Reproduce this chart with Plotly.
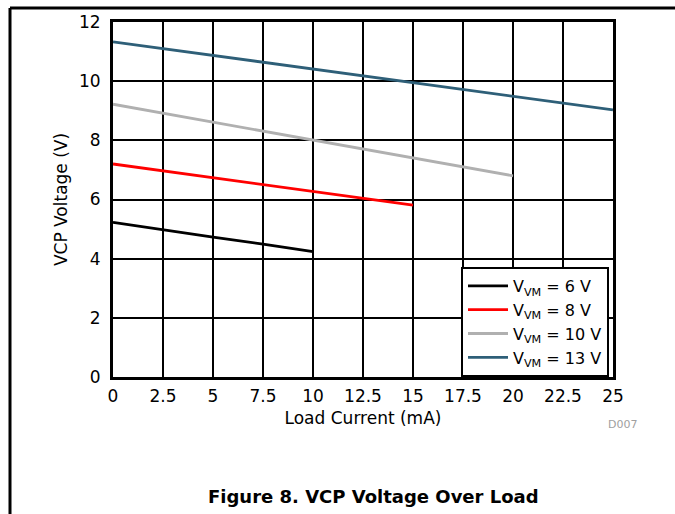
import plotly.graph_objects as go

x_6v = [0, 2.5, 5, 7.5, 10]
y_6v = [5.23, 4.97, 4.73, 4.49, 4.24]
x_8v = [0, 15]
y_8v = [7.2, 5.81]
x_10v = [0, 20]
y_10v = [9.22, 6.8]
x_13v = [0, 25]
y_13v = [11.33, 9.03]

series = [
    ("V<sub>VM</sub> = 6 V", x_6v, y_6v, "#000000"),
    ("V<sub>VM</sub> = 8 V", x_8v, y_8v, "#ff0000"),
    ("V<sub>VM</sub> = 10 V", x_10v, y_10v, "#b0b0b0"),
    ("V<sub>VM</sub> = 13 V", x_13v, y_13v, "#2e5f78"),
]

x_ticks = [0, 2.5, 5, 7.5, 10, 12.5, 15, 17.5, 20, 22.5, 25]
x_tick_labels = ["0", "2.5", "5", "7.5", "10", "12.5", "15", "17.5", "20", "22.5", "25"]
y_ticks = [0, 2, 4, 6, 8, 10, 12]

FONT = "DejaVu Sans, Liberation Sans, Arial, sans-serif"

fig = go.Figure()
for name, xs, ys, col in series:
    fig.add_trace(go.Scatter(x=xs, y=ys, mode="lines", name=name,
                             line=dict(color=col, width=2.8)))

fig.update_layout(
    width=675, height=514,
    margin=dict(l=113, r=62, t=22, b=137),
    paper_bgcolor="white", plot_bgcolor="white",
    font=dict(family=FONT, size=16, color="black"),
    showlegend=True,
    legend=dict(x=0.696, y=0, xanchor="left", yanchor="bottom",
                bgcolor="white", bordercolor="black", borderwidth=2,
                font=dict(size=16), tracegroupgap=0, itemwidth=40),
    xaxis=dict(range=[0, 25], tickvals=x_ticks, ticktext=x_tick_labels,
               showgrid=True, gridcolor="black", gridwidth=2,
               zeroline=False, showline=True, linecolor="black", linewidth=3,
               mirror=True, ticks="", tickfont=dict(size=17), ticklabelstandoff=2,
               title=dict(text="Load Current (mA)", font=dict(size=17), standoff=7)),
    yaxis=dict(range=[0, 12], tickvals=y_ticks,
               showgrid=True, gridcolor="black", gridwidth=2,
               zeroline=False, showline=True, linecolor="black", linewidth=3,
               mirror=True, ticks="", tickfont=dict(size=17), ticklabelstandoff=6,
               title=dict(text="VCP Voltage (V)", font=dict(size=17), standoff=8)),
)

# outer figure frame (top and left edges)
fig.add_shape(type="line", xref="paper", yref="paper",
              x0=-0.206, x1=1.2, y0=1.0394, y1=1.0394,
              line=dict(color="black", width=3))
fig.add_shape(type="line", xref="paper", yref="paper",
              x0=-0.206, x1=-0.206, y0=1.0394, y1=-0.4,
              line=dict(color="black", width=3))

fig.add_annotation(text="D007", xref="paper", yref="paper",
                   x=1.018, y=-0.135, xanchor="center", yanchor="middle",
                   showarrow=False, font=dict(size=11, color="#a0a0a0"))
fig.add_annotation(text="<b>Figure 8. VCP Voltage Over Load</b>", xref="paper", yref="paper",
                   x=0.52, y=-0.338, xanchor="center", yanchor="middle",
                   showarrow=False, font=dict(size=18, color="black"))

fig.write_html("out.html", config={"displayModeBar": False},
               post_script="document.body.style.margin='0';")
